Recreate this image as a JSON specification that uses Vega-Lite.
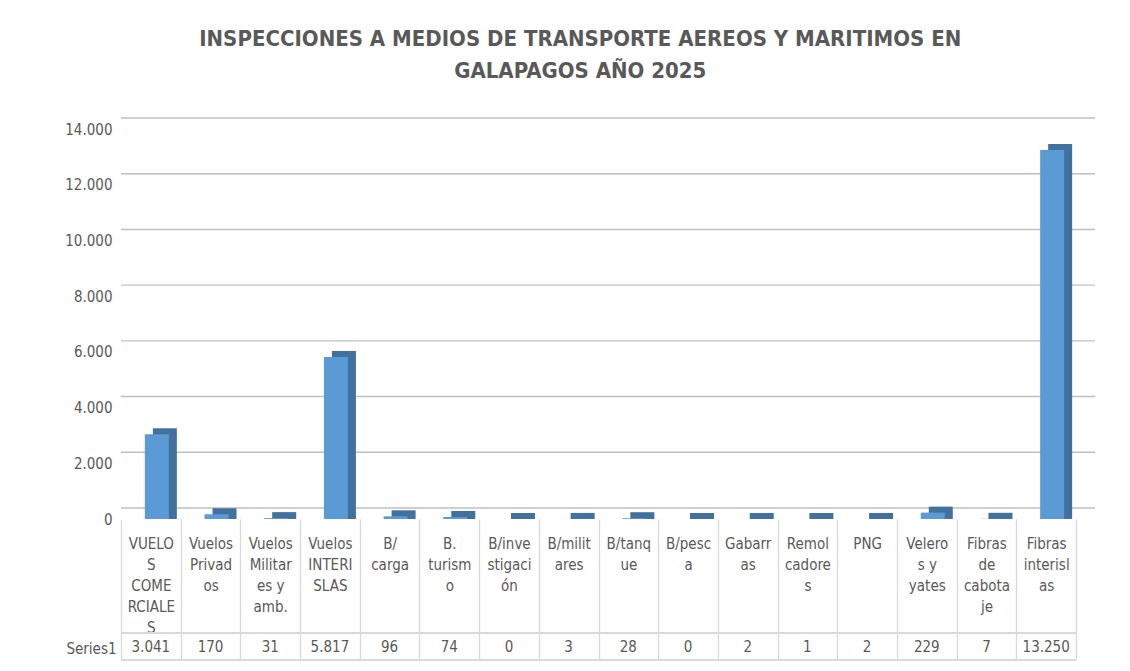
{
  "$schema": "https://vega.github.io/schema/vega-lite/v6.json",
  "width": 955,
  "height": 390,
  "padding": {"left": 64, "top": 28, "right": 10, "bottom": 5},
  "background": "white",
  "config": {
    "font": "Liberation Sans Narrow, Arial Narrow, DejaVu Sans Condensed, sans-serif",
    "view": {"stroke": null}
  },
  "title": {
    "text": ["INSPECCIONES A MEDIOS DE TRANSPORTE  AEREOS Y MARITIMOS EN", "GALAPAGOS  AÑO 2025"],
    "fontSize": 22,
    "fontWeight": "bold",
    "color": "#595959",
    "lineHeight": 32,
    "anchor": "middle",
    "frame": "bounds",
    "offset": 34
  },
  "data": {
    "values": [
      {"cat": "VUELO\nS\nCOME\nRCIALE\nS", "value": 3041},
      {"cat": "Vuelos\nPrivad\nos", "value": 170},
      {"cat": "Vuelos\nMilitar\nes y\namb.", "value": 31},
      {"cat": "Vuelos\nINTERI\nSLAS", "value": 5817},
      {"cat": "B/\ncarga", "value": 96},
      {"cat": "B.\nturism\no", "value": 74},
      {"cat": "B/inve\nstigaci\nón", "value": 0},
      {"cat": "B/milit\nares", "value": 3},
      {"cat": "B/tanq\nue", "value": 28},
      {"cat": "B/pesc\na", "value": 0},
      {"cat": "Gabarr\nas", "value": 2},
      {"cat": "Remol\ncadore\ns", "value": 1},
      {"cat": "PNG", "value": 2},
      {"cat": "Velero\ns y\nyates", "value": 229},
      {"cat": "Fibras\nde\ncabota\nje", "value": 7},
      {"cat": "Fibras\ninterisl\nas", "value": 13250}
    ]
  },
  "transform": [
    {"calculate": "replace(format(datum.value, ',d'), ',', '.')", "as": "valueText"}
  ],
  "layer": [
    {
      "data": {"values": [
        {"tick": 0}, {"tick": 2000}, {"tick": 4000}, {"tick": 6000},
        {"tick": 8000}, {"tick": 10000}, {"tick": 12000}, {"tick": 14000}
      ]},
      "mark": {"type": "rule", "color": "#BFBFBF", "strokeWidth": 1.4, "xOffset": 19, "x2Offset": 19, "yOffset": -11},
      "encoding": {
        "y": {"field": "tick", "type": "quantitative"}
      }
    },
    {
      "mark": {"type": "bar", "width": 24, "color": "#41719C", "xOffset": 14, "yOffset": -6},
      "encoding": {
        "x": {"field": "cat", "type": "nominal", "sort": null},
        "y": {"field": "value", "type": "quantitative", "stack": null}
      }
    },
    {
      "mark": {"type": "bar", "width": 24, "color": "#5B9BD5", "xOffset": 6},
      "encoding": {
        "x": {
          "field": "cat", "type": "nominal", "sort": null,
          "scale": {"type": "band", "paddingInner": 0, "paddingOuter": 0},
          "axis": {
            "title": null,
            "labelExpr": "split(datum.label, '\\n')",
            "labelAngle": 0,
            "labelAlign": "center",
            "labelBaseline": "top",
            "labelLineHeight": 21,
            "labelFontSize": 15,
            "labelColor": "#595959",
            "labelPadding": -123,
            "labelOverlap": false,
            "domain": false,
            "tickBand": "extent",
            "tickSize": 140,
            "tickColor": "#D9D9D9",
            "tickWidth": 1.3
          }
        },
        "y": {
          "field": "value", "type": "quantitative", "stack": null,
          "scale": {"domain": [0, 14000]},
          "axis": {
            "values": [0, 2000, 4000, 6000, 8000, 10000, 12000, 14000],
            "labelExpr": "replace(format(datum.value, ',d'), ',', '.')",
            "grid": false,
            "domain": false, "ticks": false,
            "labelColor": "#595959", "labelFontSize": 15, "labelPadding": 9,
            "title": "Series1",
            "titleAngle": 0,
            "titleFontSize": 15,
            "titleFontWeight": "normal",
            "titleColor": "#595959",
            "titleAlign": "center",
            "titleBaseline": "middle",
            "titleX": -30,
            "titleY": 519
          }
        }
      }
    },
    {
      "mark": {"type": "rule", "color": "#D9D9D9", "strokeWidth": 1.3, "yOffset": 114},
      "encoding": {
        "y": {"datum": 0, "type": "quantitative"}
      }
    },
    {
      "mark": {"type": "rule", "color": "#D9D9D9", "strokeWidth": 1.3, "yOffset": 141},
      "encoding": {
        "y": {"datum": 0, "type": "quantitative"}
      }
    },
    {
      "mark": {"type": "text", "align": "center", "baseline": "middle", "fontSize": 15, "color": "#595959", "yOffset": 128},
      "encoding": {
        "x": {"field": "cat", "type": "nominal", "sort": null},
        "y": {"datum": 0, "type": "quantitative"},
        "text": {"field": "valueText", "type": "nominal"}
      }
    }
  ]
}
